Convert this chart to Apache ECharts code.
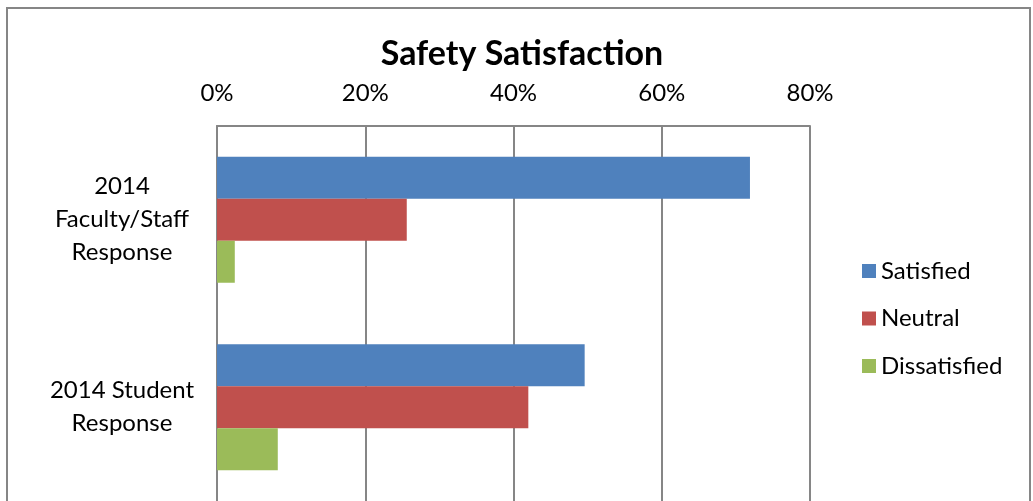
<!DOCTYPE html>
<html>
<head>
<meta charset="utf-8">
<script src="https://cdn.jsdelivr.net/npm/echarts@6/dist/echarts.min.js"></script>
<style>
html,body{margin:0;padding:0;background:#fff;}
#chart{width:1033px;height:501px;}
</style>
</head>
<body>
<div id="chart"></div>
<script>
const categories = ['2014 Faculty/Staff Response', '2014 Student Response'];
const categoryLines = [['2014', 'Faculty/Staff', 'Response'], ['2014 Student', 'Response']];
const seriesNames = ['Satisfied', 'Neutral', 'Dissatisfied'];
const satisfied = [71.9, 49.6];
const neutral = [25.6, 42.0];
const dissatisfied = [2.4, 8.2];
const tickValues = [0, 20, 40, 60, 80];

const FONT = 'Lato';
const colors = ['#4F81BD', '#C0504D', '#9BBB59'];
const values = [satisfied, neutral, dissatisfied];

const chart = echarts.init(document.getElementById('chart'), null, {renderer: 'canvas'});
chart.setOption({
  animation: false,
  color: colors,
  title: {
    text: 'Safety Satisfaction',
    left: 517, top: 32, textAlign: 'center',
    textStyle: {fontFamily: FONT, fontSize: 34, fontWeight: 'bold', color: '#000'}
  },
  legend: {
    orient: 'vertical',
    left: 862, top: 259, padding: 0,
    itemWidth: 14, itemHeight: 14, itemGap: 23.5,
    icon: 'rect',
    textStyle: {fontFamily: FONT, fontSize: 24, color: '#000'},
    data: seriesNames
  },
  graphic: [{
    type: 'rect',
    shape: {x: 7, y: 8, width: 1023, height: 560},
    style: {fill: 'none', stroke: '#868686', lineWidth: 2},
    silent: true, z: 0
  }],
  grid: {left: 217, top: 126, width: 593, height: 377, containLabel: false},
  xAxis: {
    type: 'value', position: 'top',
    min: 0, max: 80, interval: 20,
    axisLine: {show: true, lineStyle: {color: '#868686', width: 2}},
    axisTick: {show: false},
    splitLine: {show: true, lineStyle: {color: '#868686', width: 2}},
    axisLabel: {
      margin: 21, fontFamily: FONT, fontSize: 24, color: '#000',
      formatter: v => tickValues.includes(v) ? v + '%' : ''
    }
  },
  yAxis: {
    type: 'category', inverse: true, data: categories,
    axisLine: {show: true, lineStyle: {color: '#868686', width: 2}},
    axisTick: {show: false},
    splitLine: {show: false},
    axisLabel: {
      margin: 95, align: 'center', fontFamily: FONT, fontSize: 24, color: '#000',
      lineHeight: 33,
      formatter: (v, i) => categoryLines[categories.indexOf(v)].join('\n')
    }
  },
  series: seriesNames.map((name, i) => ({
    name, type: 'bar', data: values[i],
    barWidth: 42, barGap: '0%',
    itemStyle: {color: colors[i]}
  }))
});
</script>
</body>
</html>
